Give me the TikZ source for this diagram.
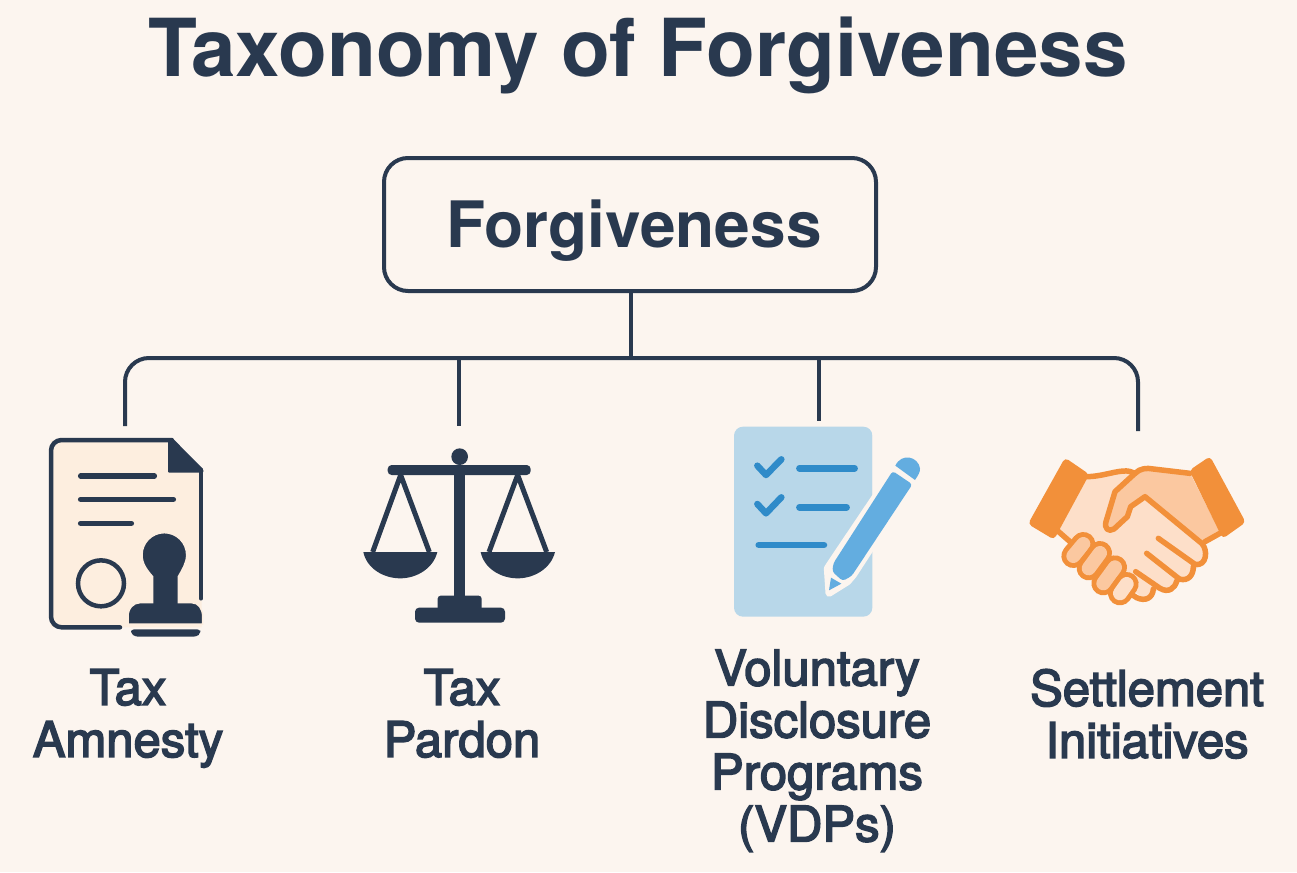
\documentclass[tikz,border=0pt]{standalone}
\usepackage{fontspec}
\setmainfont{TeX Gyre Heros}
\newfontfamily\labelfont[FakeBold=3.2]{TeX Gyre Heros}
\definecolor{bgc}{HTML}{FCF5EF}
\definecolor{ink}{HTML}{29394F}
\definecolor{docfill}{HTML}{FDEEDF}
\definecolor{cliplight}{HTML}{B8D7E9}
\definecolor{bluemid}{HTML}{2F8BC9}
\definecolor{pencilc}{HTML}{63ADE0}
\definecolor{orangec}{HTML}{F2903A}
\definecolor{handlight}{HTML}{FDDFC9}
\definecolor{handdark}{HTML}{FBC8A0}
\tikzset{
  rootbox/.style={draw=ink,line width=4pt,rounded corners=24pt,minimum width=492pt,minimum height=133pt,inner sep=0pt,text=ink,font=\fontsize{64}{70}\selectfont\bfseries},
  titletext/.style={inner sep=0pt,text=ink,font=\fontsize{80}{86}\selectfont\bfseries},
  labeltext/.style={inner sep=0pt,text=ink,align=center,anchor=north,font=\fontsize{49}{52}\selectfont\labelfont},
  conn/.style={draw=ink,line width=4pt},
  inkline/.style={draw=ink,line width=4.5pt,line cap=round,line join=round},
  inkthin/.style={draw=ink,line width=5.5pt,line cap=round},
  checkl/.style={draw=bluemid,line width=6.5pt,line cap=round,line join=round},
  blueline/.style={draw=bluemid,line width=6.5pt,line cap=round},
  orangel/.style={draw=orangec,line width=5.5pt,line cap=round,line join=round},
  fingerout/.style={draw=orangec,line width=24pt,line cap=round},
  fingerin/.style={draw=handdark,line width=14pt,line cap=round},
  iconscale/.style={x=0.33333pt,y=-0.33333pt}
}
\begin{document}
\begin{tikzpicture}[x=1pt,y=-1pt]
\useasboundingbox (0,0) rectangle (1297,872);
\fill[bgc] (0,0) rectangle (1297,872);

\node[titletext] (title) at (638,55) {Taxonomy of Forgiveness};
\node[rootbox] (root) at (630,224.5) {\raisebox{-23pt}[0pt][0pt]{\hspace*{8pt}Forgiveness}};

\coordinate (bus) at (631,358);
\coordinate (dropA) at (125,426);
\coordinate (dropB) at (459,426);
\coordinate (dropC) at (819,421);
\coordinate (dropD) at (1138,431);
\draw[conn] (root.south -| bus) -- (bus);
\draw[conn,rounded corners=24pt] (dropA) |- (bus) -| (dropD);
\draw[conn] (dropB |- bus) -- (dropB);
\draw[conn] (dropC |- bus) -- (dropC);

% document and stamp
\begin{scope}[shift={(30,420)},iconscale]
  \fill[docfill] (62,60) -- (425,60) -- (515,150) -- (515,622) -- (62,622) -- cycle;
  \draw[inkline] (270,622) -- (95,622) arc[start angle=90,end angle=180,radius=32] -- (63,92) arc[start angle=180,end angle=270,radius=32] -- (425,60);
  \draw[inkline] (513,150) -- (513,535);
  \fill[ink,rounded corners=1pt] (414,55) -- (428,55) -- (520,148) -- (520,158) -- (414,158) -- cycle;
  \draw[inkthin] (152,168) -- (373,168);
  \draw[inkthin] (152,238) -- (430,238);
  \draw[inkthin] (152,310) -- (304,310);
  \draw[ink,line width=4.5pt] (213,490) circle[radius=69];
  \fill[ink,draw=docfill,line width=1.5pt] (368,470) .. controls (350,450) and (336,430) .. (336,405) arc[start angle=180,end angle=360,radius=67] .. controls (470,430) and (456,450) .. (445,470) -- (445,548) -- (485,548) .. controls (505,548) and (518,565) .. (518,590) -- (518,612) -- (294,612) -- (294,590) .. controls (294,565) and (310,548) .. (330,548) -- (368,548) -- cycle;
  \fill[ink,rounded corners=3pt] (303,628) -- (511,628) -- (511,640) -- (500,650) -- (315,650) -- (303,640) -- cycle;
\end{scope}

% scales
\begin{scope}[shift={(350,430)},iconscale]
  \fill[ink] (329,80) circle[radius=25];
  \fill[ink,rounded corners=4pt] (113,105) rectangle (542,135);
  \fill[ink] (313,120) rectangle (345,510);
  \fill[ink,rounded corners=3pt] (263,497) rectangle (395,545);
  \fill[ink,rounded corners=4pt] (195,533) rectangle (465,578);
  \draw[ink,line width=5pt,line join=round] (68,366) -- (152,135) -- (238,366);
  \draw[ink,line width=5pt,line join=round] (417,366) -- (503,135) -- (590,366);
  \fill[ink] (40,366) -- (262,366) .. controls (250,415) and (200,445) .. (151,445) .. controls (100,445) and (50,415) .. (40,366) -- cycle;
  \fill[ink] (392,366) -- (615,366) .. controls (603,415) and (553,445) .. (503,445) .. controls (452,445) and (402,415) .. (392,366) -- cycle;
\end{scope}

% checklist and pencil
\begin{scope}[shift={(720,415)},iconscale]
  \fill[cliplight,rounded corners=9pt] (42,35) rectangle (457,605);
  \draw[checkl] (112,152) -- (138,180) -- (184,133);
  \draw[checkl] (112,267) -- (138,295) -- (184,247);
  \draw[blueline] (238,160) -- (404,160);
  \draw[blueline] (238,277) -- (380,277);
  \draw[blueline] (116,390) -- (312,390);
  \fill[bgc,draw=bgc,line width=7pt,line join=round] (518,168) -- (577,208) -- (400,480) -- (383,500) -- (327,535) -- (322,460) -- (335,440) -- cycle;
  \fill[bgc] (458,240) -- (600,240) -- (600,425) -- (458,425) -- cycle;
  \fill[bgc] (458,30) -- (458,237) -- (530,130) -- (530,30) -- cycle;
  \fill[pencilc,rounded corners=3pt] (518,168) -- (577,208) -- (395,483) -- (368,498) -- (337,470) -- (340,445) -- cycle;
  \fill[bgc,draw=bgc,line width=5pt,line join=round] (526,152) .. controls (545,112) and (595,125) .. (600,160) .. controls (601,170) and (595,180) .. (585,195) -- cycle;
  \fill[pencilc] (526,152) .. controls (545,112) and (595,125) .. (600,160) .. controls (601,170) and (595,180) .. (585,195) -- cycle;
  \fill[pencilc] (333,488) -- (364,506) -- (327,526) -- cycle;
\end{scope}

% handshake
\begin{scope}[shift={(1020,445)},iconscale]
  \fill[handlight] (200,95) -- (345,78) -- (510,85) -- (600,262) -- (550,295) -- (555,345) -- (520,380) -- (470,420) -- (400,440) -- (370,460) -- (320,420) -- (150,290) -- (110,255) -- cycle;
  \fill[handdark] (345,85) .. controls (360,70) and (380,68) .. (400,72) -- (510,85) -- (600,262) -- (550,290) -- (375,155) -- (332,185) -- (322,215) -- (282,252) .. controls (265,262) and (252,250) .. (258,230) -- (285,140) -- cycle;
  \draw[orangel] (200,95) .. controls (240,95) and (280,80) .. (310,78) .. controls (325,77) and (335,80) .. (345,85);
  \draw[orangel] (110,255) -- (150,290);
  \draw[orangel] (345,85) .. controls (360,70) and (380,68) .. (400,72) -- (510,85);
  \draw[orangel] (345,85) -- (285,140) -- (258,230) .. controls (252,250) and (265,262) .. (282,252) -- (322,215) -- (332,185) -- (375,155) -- (545,295) .. controls (565,315) and (560,365) .. (525,358) -- (415,280);
  \draw[orangel] (555,290) -- (605,262);
  \draw[orangel] (520,365) .. controls (520,390) and (505,410) .. (478,402) -- (380,325);
  \draw[orangel] (470,408) .. controls (465,430) and (445,445) .. (420,430) -- (347,380);
  \draw[orangel] (400,432) .. controls (398,460) and (375,470) .. (350,458) -- (330,445);
  \draw[fingerout] (190,297) -- (160,333);
  \draw[fingerin] (190,297) -- (160,333);
  \draw[fingerout] (240,324) -- (206,370);
  \draw[fingerin] (240,324) -- (206,370);
  \draw[fingerout] (285,367) -- (250,415);
  \draw[fingerin] (285,367) -- (250,415);
  \draw[fingerout] (320,417) -- (300,445);
  \draw[fingerin,handlight] (320,417) -- (300,445);
  \fill[orangec,rounded corners=4pt] (135,38) -- (208,88) -- (102,284) -- (24,237) -- cycle;
  \fill[orangec,rounded corners=4pt] (570,34) -- (677,232) -- (608,281) -- (508,76) -- cycle;
\end{scope}

\node[labeltext] (amnesty) at (128,669) {Tax\\Amnesty};
\node[labeltext] (pardon) at (462,669) {Tax\\Pardon};
\node[labeltext] (vdp) at (817,649.5) {Voluntary\\Disclosure\\Programs\\(VDPs)};
\node[labeltext] (settle) at (1147,669) {Settlement\\Initiatives};
\end{tikzpicture}
\end{document}
